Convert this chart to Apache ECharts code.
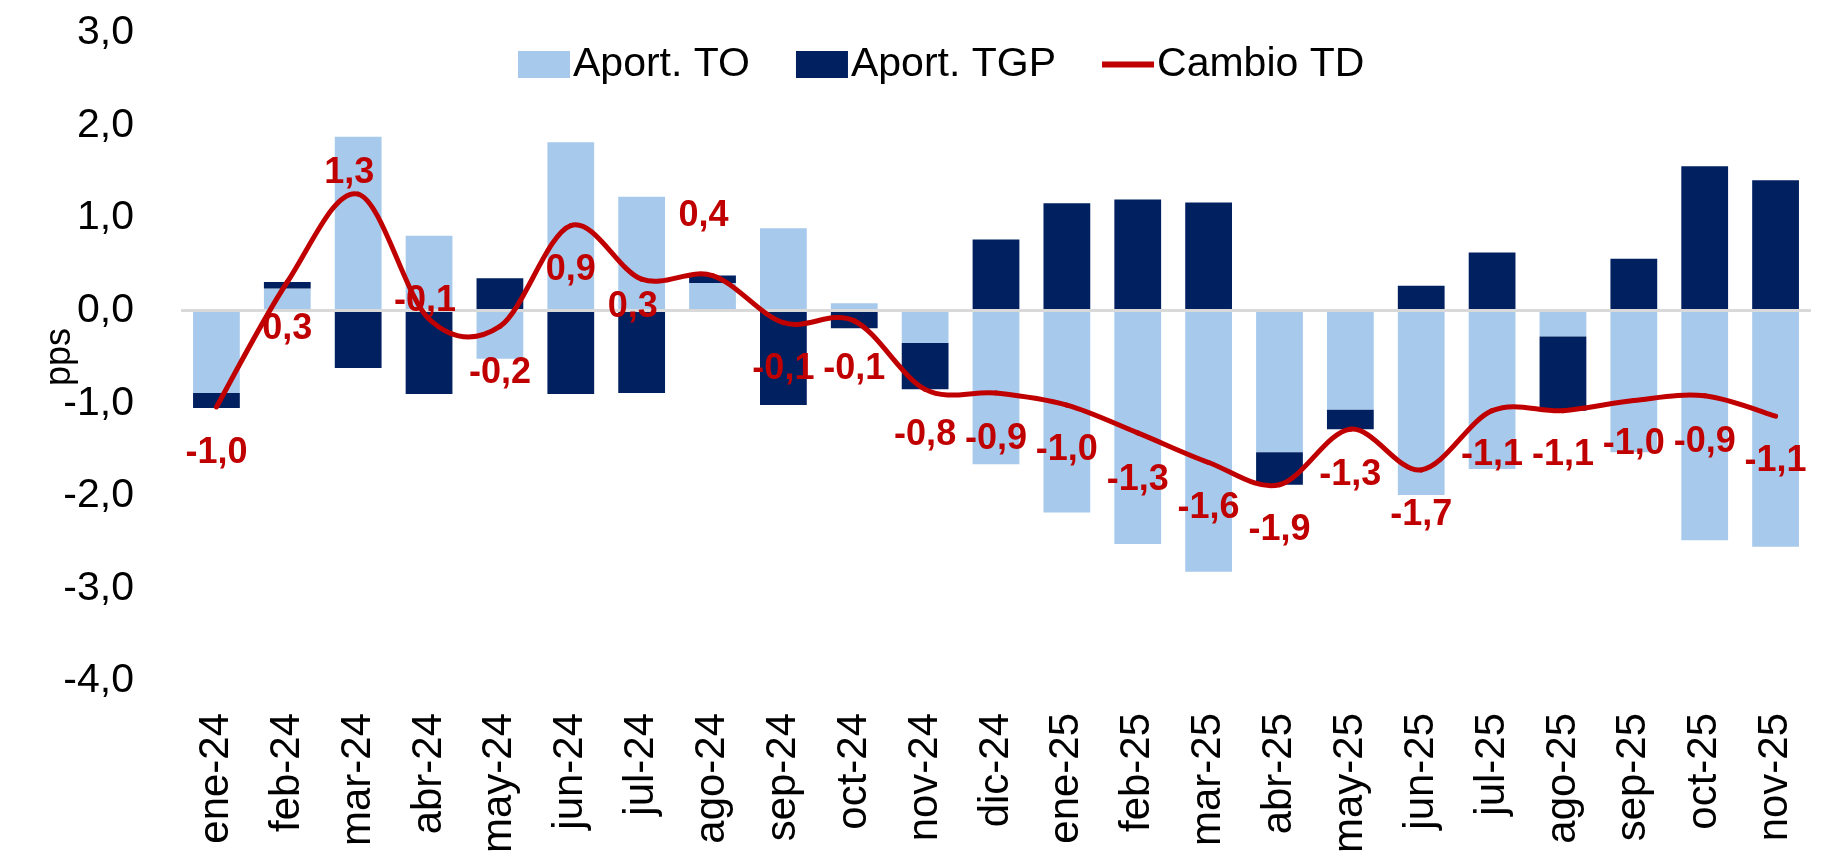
<!DOCTYPE html>
<html>
<head>
<meta charset="utf-8">
<script src="https://cdn.jsdelivr.net/npm/echarts@6/dist/echarts.min.js"></script>
<style>
html,body{margin:0;padding:0;background:#fff;}
#chart{width:1847px;height:856px;}
</style>
</head>
<body>
<div id="chart"></div>
<script>
const categories = ['ene-24','feb-24','mar-24','abr-24','may-24','jun-24','jul-24','ago-24','sep-24','oct-24','nov-24','dic-24','ene-25','feb-25','mar-25','abr-25','may-25','jun-25','jul-25','ago-25','sep-25','oct-25','nov-25'];
const aportTO = [-0.89, 0.24, 1.88, 0.81, -0.52, 1.82, 1.23, 0.30, 0.89, 0.08, -0.35, -1.66, -2.18, -2.52, -2.82, -1.53, -1.07, -1.99, -1.71, -0.28, -1.53, -2.48, -2.55];
const aportTGP = [-0.16, 0.07, -0.62, -0.90, 0.35, -0.90, -0.89, 0.08, -1.02, -0.19, -0.50, 0.77, 1.16, 1.20, 1.17, -0.35, -0.21, 0.27, 0.63, -0.80, 0.56, 1.56, 1.41];
const cambioTD = [-1.04, 0.31, 1.26, -0.09, -0.17, 0.92, 0.34, 0.38, -0.13, -0.11, -0.85, -0.89, -1.02, -1.32, -1.64, -1.88, -1.28, -1.72, -1.08, -1.08, -0.97, -0.92, -1.14];
const yTicks = {min: -4, max: 3, interval: 1};

// label placement (style only)
const labelDx = [0,0,-9,-4,0,0,-9,-9,0,0,0,0,0,0,0,0,0,0,0,0,0,0,0];
const labelDy = [46,47,-21,-18,47,45,28,-59,46,48,46,46,45,47,46,45,46,45,44,44,44,46,45];

const fmt = v => v.toFixed(1).replace('.', ',');
const FONT = "'Liberation Sans', Arial, sans-serif";
const RED = '#C00000';

// smooth (Catmull-Rom style, as spreadsheet smoothed lines) drawn through the axis scales
function renderLine(params, api) {
  const i = params.dataIndex;
  const n = cambioTD.length;
  const pt = j => {
    const k = Math.max(0, Math.min(n - 1, j));
    return api.coord([k, cambioTD[k]]);
  };
  const children = [];
  if (i < n - 1) {
    const p0 = pt(i - 1), p1 = pt(i), p2 = pt(i + 1), p3 = pt(i + 2);
    const t = 1 / 6;
    children.push({
      type: 'bezierCurve',
      z2: 1,
      shape: {
        x1: p1[0], y1: p1[1],
        cpx1: p1[0] + (p2[0] - p0[0]) * t, cpy1: p1[1] + (p2[1] - p0[1]) * t,
        cpx2: p2[0] - (p3[0] - p1[0]) * t, cpy2: p2[1] - (p3[1] - p1[1]) * t,
        x2: p2[0], y2: p2[1]
      },
      style: {stroke: RED, lineWidth: 5, fill: null, lineCap: 'round'}
    });
  }
  const p = pt(i);
  children.push({
    type: 'text',
    z2: 10,
    x: p[0] + labelDx[i], y: p[1] + labelDy[i],
    style: {
      text: fmt(cambioTD[i]),
      fill: RED,
      fontFamily: FONT, fontWeight: 'bold', fontSize: 36,
      align: 'center', verticalAlign: 'middle'
    }
  });
  return {type: 'group', children: children};
}

const chart = echarts.init(document.getElementById('chart'), null, {renderer: 'canvas'});
chart.setOption({
  animation: false,
  backgroundColor: '#ffffff',
  legend: {
    left: 513, top: 39,
    itemWidth: 52, itemHeight: 27, itemGap: 46,
    textStyle: {fontFamily: FONT, fontSize: 41, color: '#000', padding: [0,0,0,-2]},
    data: [
      {name: 'Aport. TO', icon: 'rect'},
      {name: 'Aport. TGP', icon: 'rect'},
      {name: 'Cambio TD', icon: 'path://M0 0H52V6H0Z'}
    ]
  },
  grid: {left: 181, right: 36, top: 33, bottom: 171},
  xAxis: {
    type: 'category',
    data: categories,
    axisLine: {show: false, onZero: false},
    axisTick: {show: false},
    axisLabel: {interval: 0, rotate: 90, margin: 32, fontFamily: FONT, fontSize: 42, color: '#000'}
  },
  yAxis: {
    type: 'value',
    min: yTicks.min, max: yTicks.max, interval: yTicks.interval,
    name: 'pps', nameLocation: 'middle', nameRotate: 90, nameGap: 103,
    nameMoveOverlap: false,
    nameTextStyle: {fontFamily: FONT, fontSize: 36, color: '#000'},
    axisLine: {show: false}, axisTick: {show: false}, splitLine: {show: false},
    axisLabel: {formatter: fmt, margin: 47, fontFamily: FONT, fontSize: 41, color: '#000'}
  },
  series: [
    {
      name: 'Aport. TO', type: 'bar', stack: 'td', data: aportTO,
      barCategoryGap: '34%',
      itemStyle: {color: '#A7CAEC'},
      markLine: {
        silent: true, symbol: 'none', animation: false,
        label: {show: false},
        lineStyle: {color: '#D9D9D9', width: 3, type: 'solid'},
        data: [{yAxis: 0}]
      }
    },
    {
      name: 'Aport. TGP', type: 'bar', stack: 'td', data: aportTGP,
      itemStyle: {color: '#002060'}
    },
    {
      name: 'Cambio TD', type: 'custom',
      itemStyle: {color: RED},
      z: 5,
      clip: false,
      encode: {x: 0, y: 1},
      data: cambioTD.map((v, i) => [i, v]),
      renderItem: renderLine
    }
  ]
});
</script>
</body>
</html>
